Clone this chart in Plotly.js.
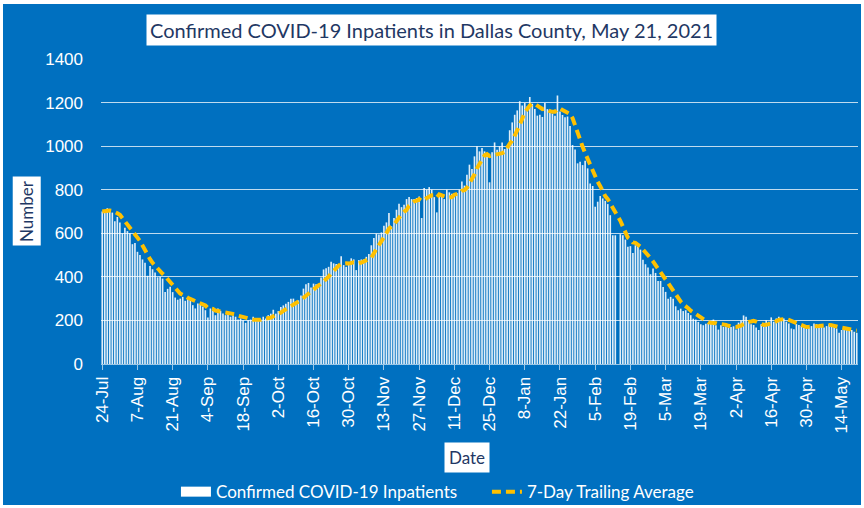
<!DOCTYPE html>
<html>
<head>
<meta charset="utf-8">
<script src="https://cdn.plot.ly/plotly-3.0.1.min.js"></script>
<style>
  html, body { margin: 0; padding: 0; background: #ffffff; }
  #chart { position: absolute; left: 3px; top: 4px; width: 858px; height: 501px; }
</style>
</head>
<body>
<div id="chart"></div>
<script>
// Daily confirmed COVID-19 inpatients, Dallas County, 24-Jul-2020 .. 20-May-2021
const startDate = '2020-07-24';
const inpatients = [
  700, 705, 715, 700, 695, 655, 675, 650, 600, 625,
  610, 600, 550, 555, 515, 500, 480, 465, 405, 450,
  435, 420, 398, 400, 392, 330, 345, 355, 330, 305,
  295, 300, 308, 290, 300, 295, 270, 255, 278, 271,
  263, 247, 214, 255, 243, 224, 255, 244, 232, 224,
  235, 217, 224, 217, 204, 209, 201, 189, 201, 204,
  217, 204, 201, 204, 217, 209, 224, 231, 249, 231,
  243, 262, 269, 277, 285, 300, 300, 285, 292, 315,
  346, 366, 372, 351, 369, 366, 357, 397, 434, 439,
  446, 469, 462, 459, 449, 495, 454, 446, 462, 485,
  480, 431, 477, 480, 480, 492, 505, 545, 578, 598,
  594, 604, 635, 650, 693, 632, 670, 708, 736, 720,
  731, 757, 766, 757, 757, 762, 769, 670, 808, 800,
  812, 800, 766, 696, 769, 772, 757, 800, 788, 782,
  772, 785, 800, 838, 819, 869, 915, 895, 953, 999,
  976, 991, 976, 953, 834, 972, 1017, 984, 999, 1017,
  987, 999, 1073, 1109, 1144, 1164, 1206, 1186, 1198, 1183,
  1226, 1195, 1170, 1140, 1144, 1134, 1198, 1170, 1167, 1149,
  1140, 1232, 1159, 1143, 1133, 1136, 1093, 1005, 985, 921,
  928, 913, 933, 898, 829, 817, 722, 745, 771, 760,
  749, 734, 683, 591, 591, null, 596, 591, 571, 538,
  541, 510, 545, 541, 525, 479, 458, 443, 412, 438,
  418, 381, 381, 354, 331, 300, 308, 300, 265, 247,
  254, 243, 247, 234, 224, 208, 204, 193, 182, 178,
  185, 188, 197, 204, 178, 158, 178, 170, 173, 167,
  170, 173, 158, 190, 200, 223, 217, 194, 183, 179,
  168, 156, 183, 189, 201, 194, 214, 194, 209, 217,
  205, 209, 194, 186, 163, 159, 183, 179, 174, 168,
  163, 168, 174, 186, 183, 179, 183, 168, 174, 183,
  179, 171, 163, 143, 156, 159, 156, 153, 156, 148,
  143
];
const tickDates = [
  '2020-07-24', '2020-08-07', '2020-08-21', '2020-09-04', '2020-09-18',
  '2020-10-02', '2020-10-16', '2020-10-30', '2020-11-13', '2020-11-27',
  '2020-12-11', '2020-12-25', '2021-01-08', '2021-01-22', '2021-02-05',
  '2021-02-19', '2021-03-05', '2021-03-19', '2021-04-02', '2021-04-16',
  '2021-04-30', '2021-05-14'
];
const tickLabels = [
  '24-Jul', '7-Aug', '21-Aug', '4-Sep', '18-Sep',
  '2-Oct', '16-Oct', '30-Oct', '13-Nov', '27-Nov',
  '11-Dec', '25-Dec', '8-Jan', '22-Jan', '5-Feb',
  '19-Feb', '5-Mar', '19-Mar', '2-Apr', '16-Apr',
  '30-Apr', '14-May'
];
const yTicks = [0, 200, 400, 600, 800, 1000, 1200, 1400];

// 7-day trailing average of the daily values
function trailingAverage(vals, n) {
  return vals.map((_, i) => {
    const w = vals.slice(Math.max(0, i - n + 1), i + 1).filter(v => v !== null);
    return w.reduce((a, b) => a + b, 0) / w.length;
  });
}
const avg7 = trailingAverage(inpatients, 7);

const DAY = 86400000;
const navy = '#1F3864';
const blue = '#0070C0';
const titleFont = 'Lato, "Open Sans", sans-serif';
const tickFont = '"Liberation Sans", Arial, sans-serif';

const traces = [
  {
    type: 'bar',
    name: 'Confirmed COVID-19 Inpatients',
    x0: startDate, dx: DAY,
    y: inpatients,
    marker: { color: 'rgba(255,255,255,0.88)', line: { width: 0 } },
    showlegend: false,
    legendgroup: 'bars'
  },
  {
    // legend entry for the bars (wide white swatch as in the original)
    type: 'scatter',
    mode: 'lines',
    name: 'Confirmed COVID-19 Inpatients',
    x: [null], y: [null],
    line: { color: '#ffffff', width: 14 },
    legendgroup: 'bars',
    showlegend: true
  },
  {
    type: 'scatter',
    mode: 'lines',
    name: '7-Day Trailing Average',
    x0: startDate, dx: DAY,
    y: avg7,
    line: { color: '#FFC000', width: 4, dash: '9px,5px' }
  }
];

const layout = {
  width: 858, height: 501,
  paper_bgcolor: blue,
  plot_bgcolor: blue,
  margin: { l: 98, r: 3, t: 55, b: 141, autoexpand: false },
  bargap: 0.35,
  showlegend: true,
  legend: {
    orientation: 'h',
    x: 0.099, xanchor: 'left',
    y: -0.42, yanchor: 'middle',
    font: { family: titleFont, size: 17, color: '#ffffff' },
    bgcolor: 'rgba(0,0,0,0)',
    itemwidth: 30,
    entrywidth: 266, entrywidthmode: 'pixels'
  },
  xaxis: {
    type: 'date',
    range: ['2020-07-23 12:00', '2021-05-20 12:00'],
    tickvals: tickDates,
    ticktext: tickLabels,
    tickangle: -90,
    tickfont: { family: tickFont, size: 17, color: '#ffffff' },
    ticks: 'outside', ticklen: 5, tickcolor: 'rgba(255,255,255,0.6)',
    showline: true, linecolor: 'rgba(255,255,255,0.6)', linewidth: 1,
    showgrid: false, zeroline: false
  },
  yaxis: {
    range: [0, 1400],
    tickvals: yTicks,
    tickfont: { family: tickFont, size: 17, color: '#ffffff' },
    showgrid: true, gridcolor: 'rgba(255,255,255,0.75)', gridwidth: 1,
    zeroline: false, showline: false, ticks: '',
    ticklabelstandoff: 17
  },
  annotations: [
    {
      text: 'Confirmed COVID-19 Inpatients in Dallas County, May 21, 2021',
      xref: 'paper', yref: 'paper', x: 0.437, y: 1.095,
      xanchor: 'center', yanchor: 'middle', showarrow: false,
      bgcolor: '#ffffff', borderpad: 3,
      font: { family: titleFont, size: 20, color: navy }
    },
    {
      text: 'Number',
      xref: 'paper', yref: 'paper', x: -0.0976, y: 0.502,
      xanchor: 'center', yanchor: 'middle', showarrow: false, textangle: -90,
      bgcolor: '#ffffff', borderpad: 3,
      font: { family: titleFont, size: 17, color: navy }
    },
    {
      text: 'Date',
      xref: 'paper', yref: 'paper', x: 0.484, y: -0.305,
      xanchor: 'center', yanchor: 'middle', showarrow: false,
      bgcolor: '#ffffff', borderpad: 4,
      font: { family: titleFont, size: 17, color: navy }
    }
  ]
};

Plotly.newPlot('chart', traces, layout, { displayModeBar: false, staticPlot: true });
</script>
</body>
</html>
